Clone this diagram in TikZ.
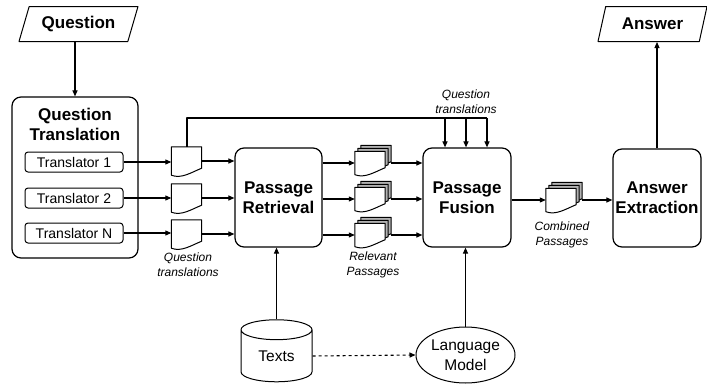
\documentclass[tikz,border=0pt]{standalone}
\usepackage{fontspec}
\setmainfont{Liberation Sans}
\usetikzlibrary{arrows.meta,shapes.geometric,calc}

\tikzset{
  block/.style={draw,line width=1.2pt,rounded corners=9pt,inner sep=0pt,align=center,
    font=\fontsize{17}{20}\selectfont\bfseries},
  transbox/.style={draw,line width=1pt,rounded corners=3pt,minimum width=98pt,minimum height=20pt,
    inner sep=0pt,font=\fontsize{14}{16}\selectfont},
  io/.style={draw,line width=1pt,trapezium,trapezium left angle=57,trapezium right angle=123,
    trapezium stretches body,minimum height=35pt,inner sep=0pt,font=\fontsize{17}{20}\selectfont\bfseries},
  note/.style={align=center,font=\fontsize{12}{15}\selectfont\itshape},
  store/.style={draw,line width=1pt,inner sep=0pt,align=center,font=\fontsize{15.5}{20}\selectfont},
  flow/.style={-{Triangle[length=6pt,width=5pt]},line width=1.1pt},
}

% one page with a wavy bottom: name, centre, fill, height
\newcommand{\docsheet}[4]{%
  \node[minimum width=30pt,minimum height=#4,inner sep=0pt] (#1) at (#2) {};
  \filldraw[fill=#3,line width=1pt] (#1.north west) -- (#1.north east) -- ([yshift=7pt]#1.south east)
    .. controls ([xshift=-10pt,yshift=3pt]#1.south east) and ([xshift=10pt,yshift=-4pt]#1.south west) .. (#1.south west) -- cycle;
}
% a pile of three pages, named after the front one
\newcommand{\docstack}[2]{%
  \docsheet{#1c}{$(#2)+(6,-6)$}{gray!60}{23pt}
  \docsheet{#1b}{$(#2)+(3,-3)$}{gray!60}{23pt}
  \docsheet{#1}{#2}{white}{23pt}
}

\begin{document}
\begin{tikzpicture}[x=1pt,y=-1pt,line join=round]
\useasboundingbox (0,0) rectangle (707,388);

% input / output
\node[io,minimum width=119pt] (q) at (78.5,24) {Question};
\node[io,minimum width=109pt] (ans) at (652.5,24) {Answer};

% translation stage
\node[block,minimum width=126pt,minimum height=161pt] (qt) at (75,177.5) {};
\node[block,draw=none] (qtt) at (75,124) {Question\\Translation};
\node[transbox] (t1) at (74,162) {Translator 1};
\node[transbox] (t2) at (74,198) {Translator 2};
\node[transbox] (t3) at (74,233) {Translator N};

\docsheet{d1}{186.5,161}{white}{28pt}
\docsheet{d2}{186.5,198}{white}{28pt}
\docsheet{d3}{186.5,234}{white}{28pt}
\node[note] (ql) at (188,265) {Question\\translations};

% retrieval and fusion
\node[block,minimum width=87pt,minimum height=99pt] (pr) at (278.5,197.5) {Passage\\Retrieval};
\node[block,minimum width=88pt,minimum height=99pt] (pf) at (467,197.5) {Passage\\Fusion};
\node[block,minimum width=88pt,minimum height=98pt] (ae) at (657,198) {Answer\\Extraction};

\docstack{s1}{370,163}
\docstack{s2}{370,199}
\docstack{s3}{370,235}
\node[note] (rl) at (373,265) {Relevant\\Passages};

\docstack{cp}{561,200}
\node[note] (cl) at (562,235) {Combined\\Passages};

% resources
\node[store,cylinder,shape border rotate=90,aspect=0.55,minimum width=71pt,minimum height=62pt] (tx) at (276.5,356) {Texts};
\node[store,ellipse,minimum width=99pt,minimum height=56pt] (lm) at (465.5,355) {Language\\Model};

% connectors
\draw[flow] (qt.north |- q.south) -- (qt.north);
\foreach \i in {1,2,3} {
  \draw[flow] (t\i.east) -- (t\i.east -| d\i.west);
  \draw[flow] (d\i.east) -- (d\i.east -| pr.west);
  \draw[flow] (pr.east |- s\i.west) -- (s\i.west);
  \draw[flow] ([xshift=6pt]s\i.east) -- (s\i.east -| pf.west);
}
% translations passed on to the fusion step
\coordinate (fb1) at (445,118);
\coordinate (fb2) at (466,118);
\coordinate (fb3) at (487,118);
\draw[line width=2pt] (d1.north) |- (fb3);
\foreach \c in {fb1,fb2,fb3}
  \draw[flow] (\c) -- (\c |- pf.north);
\node[note] (qf) at (466,102) {Question\\translations};

\draw[flow] (pf.east |- cp.west) -- (cp.west);
\draw[flow] ([xshift=6pt]cp.east) -- (cp.east -| ae.west);
\draw[flow] (ae.north) -- (ae.north |- ans.south);

\draw[flow] (tx.north) -- (tx.north |- pr.south);
\draw[flow] (lm.north) -- (lm.north |- pf.south);
\draw[flow,dashed] (tx.east) -- (lm.west);
\end{tikzpicture}
\end{document}
